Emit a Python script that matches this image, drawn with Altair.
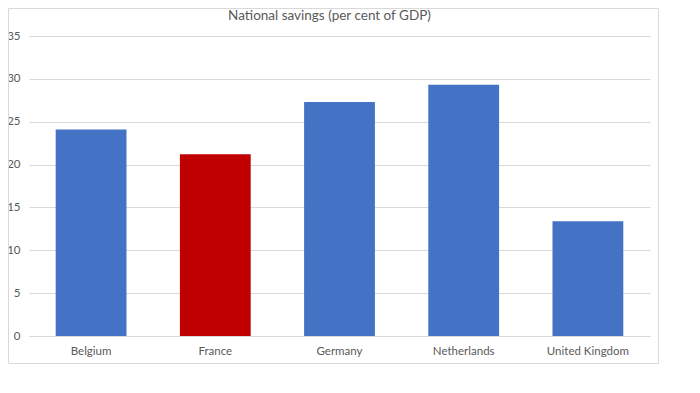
import altair as alt
import pandas as pd

countries = ["Belgium", "France", "Germany", "Netherlands", "United Kingdom"]
savings = [24.1, 21.2, 27.3, 29.3, 13.4]
bar_colors = ["#4472C4", "#C00000", "#4472C4", "#4472C4", "#4472C4"]
y_ticks = [0, 5, 10, 15, 20, 25, 30, 35]
title_text = "National savings (per cent of GDP)"

df = pd.DataFrame({"country": countries, "value": savings, "color": bar_colors})

FONT = "Lato"
GREY_TEXT = "#595959"
GRID = "#d9d9d9"

bars = alt.Chart(df).mark_bar().encode(
    x=alt.X(
        "country:N",
        sort=countries,
        title=None,
        scale=alt.Scale(paddingInner=0.43, paddingOuter=0.215),
        axis=alt.Axis(
            labelAngle=0,
            ticks=False,
            domain=True,
            domainColor=GRID,
            labelColor=GREY_TEXT,
            labelFont=FONT,
            labelFontSize=11.5,
            labelPadding=9,
            grid=False,
        ),
    ),
    y=alt.Y(
        "value:Q",
        title=None,
        scale=alt.Scale(domain=[0, 35], nice=False),
        axis=alt.Axis(
            values=y_ticks,
            ticks=False,
            domain=False,
            gridColor=GRID,
            labelColor=GREY_TEXT,
            labelFont=FONT,
            labelFontSize=11.5,
            labelPadding=9,
        ),
    ),
    color=alt.Color("color:N", scale=None, legend=None),
)

border = alt.Chart(pd.DataFrame({"a": [0]})).mark_rect(
    fill="transparent", stroke=GRID, strokeWidth=1
).encode(
    x=alt.value(-20.5),
    x2=alt.value(629.5),
    y=alt.value(-27.5),
    y2=alt.value(327.5),
)

title = alt.Chart(pd.DataFrame({"t": [title_text]})).mark_text(
    font=FONT,
    fontSize=13.5,
    color=GREY_TEXT,
    align="center",
    baseline="middle",
).encode(
    text="t:N",
    x=alt.value(300.5),
    y=alt.value(-20),
)

chart = (
    alt.layer(border, bars, title)
    .properties(
        width=621,
        height=300,
        background="white",
        autosize=alt.AutoSizeParams(type="none"),
        padding={"left": 21, "top": 28, "right": 30, "bottom": 40},
    )
    .configure_view(strokeWidth=0, stroke="transparent")
)

chart.save("out.html", embed_options={"renderer": "svg", "actions": False})
